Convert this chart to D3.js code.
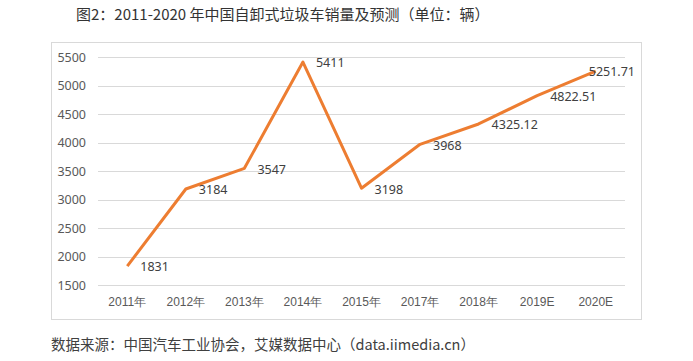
<!DOCTYPE html>
<html>
<head>
<meta charset="utf-8">
<script src="https://cdn.jsdelivr.net/npm/d3@7"></script>
<style>
  body { margin: 0; background: #fff; }
  svg { display: block; font-family: "Noto Sans CJK SC", "Noto Sans", sans-serif; }
</style>
</head>
<body>
<svg id="chart" width="693" height="361"></svg>
<script>
const years = ['2011年', '2012年', '2013年', '2014年', '2015年', '2017年', '2018年', '2019E', '2020E'];
const sales = [1831, 3184, 3547, 5411, 3198, 3968, 4325.12, 4822.51, 5251.71];
const yTicks = [1500, 2000, 2500, 3000, 3500, 4000, 4500, 5000, 5500];

const title = '图2：2011-2020 年中国自卸式垃圾车销量及预测（单位：辆）';
const source = '数据来源：中国汽车工业协会，艾媒数据中心（data.iimedia.cn）';

const c = {
  width: 693,
  height: 361,
  frame: { left: 51, top: 42, right: 641, bottom: 319 },
  margin: { left: 98, right: 68, top: 57, bottom: 76 },
  lineColor: '#ED7D31',
  gridColor: '#d9d9d9',
  textColor: '#595959',
};

const svg = d3.select('#chart');

// frame around the chart
svg.append('rect')
  .attr('x', c.frame.left + 0.5)
  .attr('y', c.frame.top + 0.5)
  .attr('width', c.frame.right - c.frame.left)
  .attr('height', c.frame.bottom - c.frame.top)
  .attr('fill', 'none')
  .attr('stroke', '#d9d9d9');

const x = d3.scaleBand(years, [c.margin.left, c.width - c.margin.right]);
const y = d3.scaleLinear([1500, 5500], [c.height - c.margin.bottom, c.margin.top]);

// grid + y labels
const yAxis = d3.axisLeft(y).tickValues(yTicks).tickSize(0).tickPadding(12).tickFormat(d3.format('d'));
const yAxisEl = svg.append('g')
  .attr('transform', `translate(${c.margin.left},0)`)
  .call(yAxis);
yAxisEl.select('.domain').remove();
yAxisEl.selectAll('.tick text')
  .attr('fill', c.textColor)
  .attr('font-size', 12.5)
  .attr('font-family', '"Noto Sans", sans-serif');

svg.append('g')
  .selectAll('line')
  .data(yTicks)
  .join('line')
  .attr('x1', c.margin.left)
  .attr('x2', c.width - c.margin.right)
  .attr('y1', (d) => Math.round(y(d)) + 0.5)
  .attr('y2', (d) => Math.round(y(d)) + 0.5)
  .attr('stroke', c.gridColor)
  .attr('stroke-width', 1);

// x labels
const xAxis = d3.axisBottom(x).tickSize(0).tickPadding(12);
const xAxisEl = svg.append('g')
  .attr('transform', `translate(0,${c.height - c.margin.bottom})`)
  .call(xAxis);
xAxisEl.select('.domain').remove();
xAxisEl.selectAll('.tick text')
  .attr('fill', c.textColor)
  .attr('font-size', 12);

// line
const cx = (d, i) => x(years[i]) + x.bandwidth() / 2;
const line = d3.line().x(cx).y((d) => y(d));

svg.append('path')
  .datum(sales)
  .attr('d', line)
  .attr('fill', 'none')
  .attr('stroke', c.lineColor)
  .attr('stroke-width', 3)
  .attr('stroke-linejoin', 'round');

// data labels, right of each point, kept inside the frame
const labels = svg.append('g')
  .selectAll('text')
  .data(sales)
  .join('text')
  .attr('x', (d, i) => cx(d, i) + 13)
  .attr('y', (d) => y(d) + 2)
  .attr('dominant-baseline', 'middle')
  .attr('fill', '#404040')
  .attr('font-size', 12.5)
  .attr('font-family', '"Noto Sans", sans-serif')
  .text((d) => d);

labels.each(function () {
  const el = d3.select(this);
  const w = this.getComputedTextLength();
  const xx = +el.attr('x');
  if (xx + w > c.frame.right - 6) el.attr('x', c.frame.right - 6 - w);
});

// title + source
svg.append('text')
  .attr('x', 76)
  .attr('y', 20)
  .attr('font-size', 15)
  .attr('fill', '#333')
  .text(title);

svg.append('text')
  .attr('x', 51)
  .attr('y', 350)
  .attr('font-size', 14.5)
  .attr('fill', '#404040')
  .text(source);
</script>
</body>
</html>
